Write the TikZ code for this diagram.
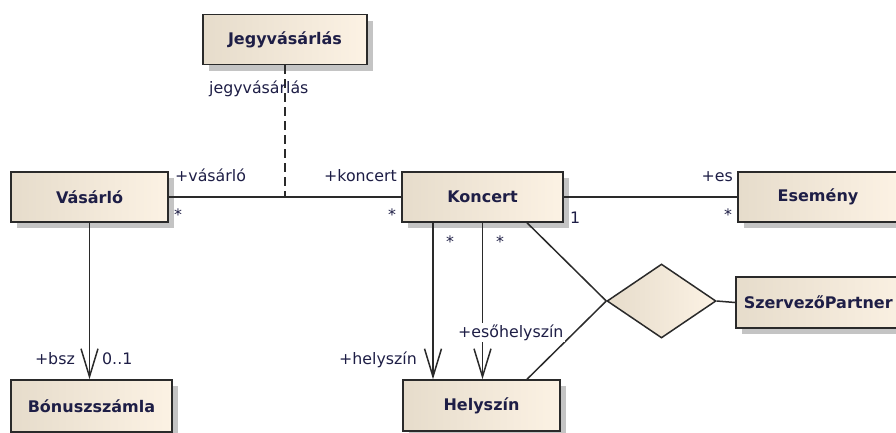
\documentclass[tikz,border=0pt]{standalone}
\usepackage{fontspec}
\setmainfont{DejaVu Sans}
\usetikzlibrary{arrows.meta,shapes.geometric,shadows}

\definecolor{boxL}{HTML}{E6DCCB}
\definecolor{boxR}{HTML}{FCF2E4}
\definecolor{edge}{HTML}{2A2A2A}
\definecolor{ink}{HTML}{1E1E46}
\definecolor{shade}{HTML}{C4C4C4}

\tikzset{
  classbox/.style={draw=edge, line width=1.5pt, left color=boxL, right color=boxR,
    minimum height=50pt, inner sep=0pt, text=ink,
    font=\bfseries\fontsize{16}{19}\selectfont,
    general shadow={fill=shade, shadow xshift=6pt, shadow yshift=-6pt}},
  relbox/.style={draw=edge, line width=1.5pt, diamond, left color=boxL, right color=boxR,
    minimum width=109pt, minimum height=74pt, inner sep=0pt},
  conn/.style={draw=edge, line width=1.5pt},
  navig/.style={conn, -{Straight Barb[length=28pt,width=17pt,line width=1.5pt]}},
  assocdash/.style={conn, dash pattern=on 9pt off 5pt},
  lbl/.style={text=ink, inner sep=0pt, font=\fontsize{15.8}{18}\selectfont},
  mult/.style={lbl}
}

\begin{document}
\begin{tikzpicture}[x=1pt,y=-1pt]
\clip (0,0) rectangle (896,432);
\fill[white] (0,0) rectangle (896,432);

% classes
\node[classbox, minimum width=164pt] (jegy) at (285,39.5) {Jegyvásárlás};
\node[classbox, minimum width=157pt] (vas)  at (89.5,197) {Vásárló};
\node[classbox, minimum width=161pt] (kon)  at (482.5,197) {Koncert};
\node[classbox, minimum width=160pt] (ese)  at (818,197) {Esemény};
\node[classbox, minimum width=161pt, minimum height=52pt] (bon) at (91.5,406) {Bónuszszámla};
\node[classbox, minimum width=157pt, minimum height=51pt] (hely) at (481.5,405.5) {Helyszín};
\node[classbox, anchor=west, minimum width=180pt, minimum height=51pt,
      text width=164pt, inner xsep=8pt, align=left] (szp) at (735,302.5) {SzervezőPartner};

% n-ary association
\node[relbox] (rel) at (661.5,301) {};

% connectors
\coordinate (aj) at (285,197);
\draw[conn] (vas.east) -- (kon.west);
\draw[assocdash] (jegy.south) -- (aj);
\draw[conn] (kon.east) -- (ese.west);
\draw[navig] (vas.south) -- (vas.south |- bon.north);
\draw[navig] ([xshift=-49.5pt]kon.south) -- ([xshift=-49.5pt]kon.south |- hely.north);
\draw[navig] (kon.south) -- (kon.south |- hely.north);
\draw[conn] ([xshift=44.5pt]kon.south) -- (rel.west);
\draw[conn] ([xshift=45.5pt]hely.north) -- (rel.west);
\draw[conn] (rel.east) -- (szp.west);

% role names and multiplicities
\node[lbl, anchor=base west] (l1) at (209,93) {jegyvásárlás};
\node[lbl, anchor=base west] (l2) at (175,181) {+vásárló};
\node[lbl, anchor=base east] (l3) at (397,181) {+koncert};
\node[mult] (m1) at (178,215) {*};
\node[mult] (m2) at (392,215) {*};
\node[mult, anchor=base west] (m3) at (570,223) {1};
\node[lbl, anchor=base east] (l4) at (733,181) {+es};
\node[mult] (m4) at (728,215) {*};
\node[mult] (m5) at (450,242) {*};
\node[mult] (m6) at (500,242) {*};
\node[lbl, anchor=base east] (l5) at (417,364) {+helyszín};
\node[lbl, anchor=base west, fill=white, inner sep=1.5pt] (l6) at (456.5,337) {+esőhelyszín};
\node[lbl, anchor=base east] (l7) at (75,364) {+bsz};
\node[mult, anchor=base west] (m7) at (102,364) {0..1};
\end{tikzpicture}
\end{document}
